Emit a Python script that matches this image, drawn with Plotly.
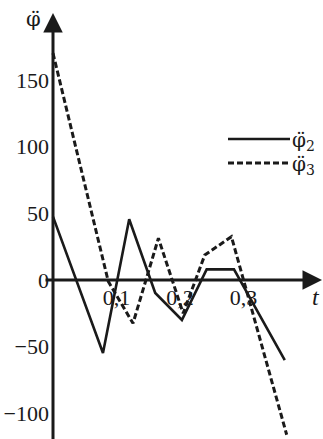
import plotly.graph_objects as go

# ---- data ----
t_phi2 = [0.0, 0.0787, 0.120, 0.161, 0.203, 0.242, 0.285, 0.365]
v_phi2 = [47.5, -54.7, 45.5, -9.7, -30.0, 8.0, 8.0, -60.0]

t_phi3 = [0.0, 0.087, 0.126, 0.166, 0.205, 0.239, 0.281, 0.368]
v_phi3 = [170.0, -1.0, -32.5, 31.3, -25.0, 18.7, 32.5, -116.0]

y_tickvals = [-100, -50, 0, 50, 100, 150]
y_ticktext = ["\u2212100", "\u221250", "0", "50", "100", "150"]
x_tickvals = [0.1, 0.2, 0.3]
x_ticktext = ["0,1", "0,2", "0,3"]

name2 = "\u03c6\u0308<sub>2</sub>"
name3 = "\u03c6\u0308<sub>3</sub>"

# ---- layout geometry ----
W, H = 323, 439
X0_PX, PX_PER_T = 53, 635.0
Y0_PX, PX_PER_V = 280.0, 1.334
x_range = [-X0_PX / PX_PER_T, (W - X0_PX) / PX_PER_T]
y_range = [(Y0_PX - H) / PX_PER_V, Y0_PX / PX_PER_V]

INK = "#1a1a1a"
FONT = "Liberation Serif, Times New Roman, serif"
SYM_FONT = "DejaVu Serif, serif"


def px2x(px):
    return (px - X0_PX) / PX_PER_T


def py2y(py):
    return (Y0_PX - py) / PX_PER_V


fig = go.Figure()
fig.add_trace(go.Scatter(x=t_phi2, y=v_phi2, mode="lines", name=name2,
                         line=dict(color=INK, width=2.6)))
fig.add_trace(go.Scatter(x=t_phi3, y=v_phi3, mode="lines", name=name3,
                         line=dict(color=INK, width=3, dash="6px,3px")))

annotations = []
# y axis with arrow
annotations.append(dict(x=0, y=py2y(13), ax=0, ay=py2y(H + 5), xref="x", yref="y",
                        axref="x", ayref="y", showarrow=True, arrowhead=2,
                        arrowsize=1.3, arrowwidth=3, arrowcolor=INK, text=""))
# x axis with arrow
annotations.append(dict(x=px2x(322), y=0, ax=px2x(44), ay=0, xref="x", yref="y",
                        axref="x", ayref="y", showarrow=True, arrowhead=2,
                        arrowsize=1.3, arrowwidth=3, arrowcolor=INK, text=""))
# axis titles
annotations.append(dict(x=33 / W, y=1 - 19 / H, xref="paper", yref="paper",
                        xanchor="center", yanchor="middle",
                        text="\u03c6\u0308", showarrow=False,
                        font=dict(family=SYM_FONT, size=21, color=INK)))
annotations.append(dict(x=316 / W, y=1 - 297 / H, xref="paper", yref="paper",
                        xanchor="center", yanchor="middle",
                        text="<i>t</i>", showarrow=False,
                        font=dict(family=FONT, size=24, color=INK)))
# legend texts
annotations.append(dict(x=290 / W, y=1 - 141 / H, xref="paper", yref="paper",
                        xanchor="left", yanchor="middle", text=name2, showarrow=False,
                        font=dict(family=SYM_FONT, size=20, color=INK)))
annotations.append(dict(x=290 / W, y=1 - 165 / H, xref="paper", yref="paper",
                        xanchor="left", yanchor="middle", text=name3, showarrow=False,
                        font=dict(family=SYM_FONT, size=20, color=INK)))

shapes = [
    dict(type="line", xref="paper", yref="paper", x0=228 / W, x1=290 / W,
         y0=1 - 139 / H, y1=1 - 139 / H, line=dict(color=INK, width=2.6)),
    dict(type="line", xref="paper", yref="paper", x0=228 / W, x1=288 / W,
         y0=1 - 163 / H, y1=1 - 163 / H, line=dict(color=INK, width=3, dash="6px,3px")),
]

fig.update_layout(
    width=W, height=H,
    margin=dict(l=0, r=0, t=0, b=0, pad=0, autoexpand=False),
    paper_bgcolor="white", plot_bgcolor="white",
    showlegend=False,
    font=dict(family=FONT, size=21, color=INK),
    xaxis=dict(range=x_range, showgrid=False, zeroline=False, showline=False,
               tickmode="array", tickvals=x_tickvals, ticktext=x_ticktext,
               ticks="", anchor="free", automargin=False, ticklabelstandoff=2,
               position=(0 - y_range[0]) / (y_range[1] - y_range[0]),
               tickfont=dict(family=FONT, size=22, color=INK), fixedrange=True),
    yaxis=dict(range=y_range, showgrid=False, zeroline=False, showline=False,
               tickmode="array", tickvals=y_tickvals, ticktext=y_ticktext,
               ticks="", anchor="free", automargin=False, ticklabelstandoff=4,
               position=X0_PX / W,
               tickfont=dict(family=FONT, size=22, color=INK), fixedrange=True),
    annotations=annotations,
    shapes=shapes,
)

fig.write_html(
    "out.html",
    config={"displayModeBar": False},
    post_script="document.body.style.margin='0';document.body.style.overflow='hidden';",
)
